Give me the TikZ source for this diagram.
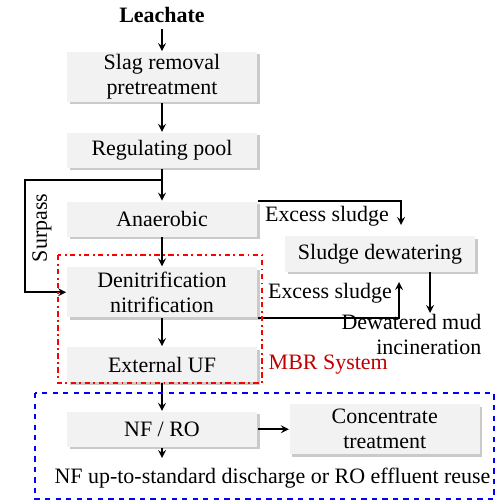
\documentclass[tikz,border=0pt]{standalone}
\usepackage{fontspec}
\setmainfont{Liberation Serif}
\usetikzlibrary{positioning,shadows}
\definecolor{boxgray}{HTML}{F2F2F2}
\definecolor{mbrred}{HTML}{C00000}

\begin{document}
\begin{tikzpicture}[->,>=stealth,line width=1pt,node distance=0.58cm,font=\fontsize{12.5}{14.2}\selectfont,
    proc box/.style={fill=boxgray,minimum width=3.8cm,minimum height=0.7cm,align=center,inner sep=1pt,
        drop shadow={shadow xshift=0.5mm,shadow yshift=-0.5mm,fill=gray!70,opacity=0.6}},
    tall box/.style={proc box,minimum height=1cm}]
    \useasboundingbox (0,0) rectangle (10,-10);

    % main line
    \node[font=\fontsize{12.5}{14.2}\selectfont\bfseries] (leach) at (3.24,-0.3) {Leachate};
    \node[tall box] (slag) at (3.24,-1.54) {Slag removal\\pretreatment};
    \node[proc box] (pool) [below=of slag] {Regulating pool};
    \node[proc box] (anaer) [below=0.64cm of pool] {Anaerobic};
    \node[tall box] (denit) [below=of anaer] {Denitrification\\nitrification};
    \node[proc box] (uf) [below=0.56cm of denit] {External UF};
    \node[proc box] (nfro) [below=0.56cm of uf] {NF / RO};

    % side line
    \node[proc box] (sludge) at (7.6,-5.08) {Sludge dewatering};
    \node[tall box] (conc) [right=0.62cm of nfro] {Concentrate\\treatment};
    \node[align=right,anchor=east] (mud) at (9.76,-6.69) {Dewatered mud\\incineration};
    \node (out) at (5.45,-9.56) {NF up-to-standard discharge or RO effluent reuse};
    \node (ex1) at (6.54,-4.32) {Excess sludge};
    \node (ex2) at (6.6,-5.86) {Excess sludge};
    \node[rotate=90] (surpass) at (0.84,-4.56) {Surpass};
    \node[text=mbrred,anchor=west] (mbr) at (5.24,-7.3) {MBR System};

    \coordinate (bypass) at (3.24,-3.6);
    \coordinate (bpleft) at (0.5,-3.6);
    \coordinate (ex1end) at (8.02,-4.5);
    \coordinate (ex2end) at (7.98,-5.64);
    \coordinate (mudtop) at (8.6,-6.26);
    \coordinate (outtop) at (3.24,-9.16);

    \path
        (leach) edge (slag)
        (slag) edge (pool)
        (pool) edge (anaer)
        (anaer) edge (denit)
        (denit) edge (uf)
        (uf) edge (nfro)
        (nfro) edge (outtop)
        (nfro) edge (conc)
        (sludge.south -| mudtop) edge (mudtop)
    ;

    \draw (bypass) -- (bpleft) |- (denit.west);
    \draw (anaer.north east) -| (ex1end);
    \draw (denit.south east) -| (ex2end);

    % system frames
    \draw[-,red,dash dot,line width=0.6pt] (1.16,-5.1) rectangle (5.24,-7.66);
    \draw[-,blue,dashed,line width=0.6pt] (0.7,-7.86) rectangle (9.88,-9.98);
\end{tikzpicture}
\end{document}
